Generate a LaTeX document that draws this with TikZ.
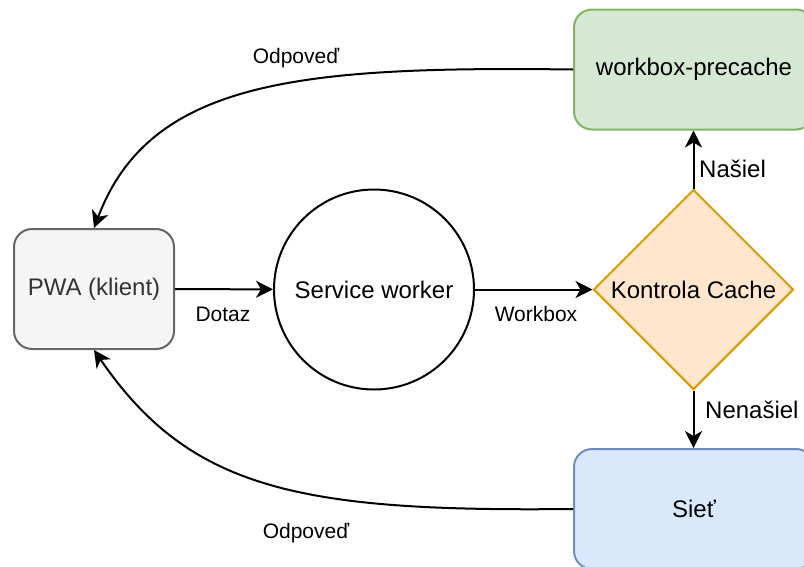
\documentclass[tikz,border=0pt]{standalone}
\usepackage{fontspec}
\setmainfont{Liberation Sans}
\usetikzlibrary{shapes.geometric,arrows.meta}
\definecolor{gfill}{HTML}{D5E8D4}
\definecolor{gline}{HTML}{82B366}
\definecolor{ofill}{HTML}{FFE6CC}
\definecolor{oline}{HTML}{D79B00}
\definecolor{bfill}{HTML}{DAE8FC}
\definecolor{bline}{HTML}{6C8EBF}
\definecolor{kfill}{HTML}{F5F5F5}
\definecolor{kline}{HTML}{666666}
\definecolor{ktext}{HTML}{333333}
\begin{document}
\begin{tikzpicture}[x=1pt,y=-1pt,
  box/.style={draw, rounded corners=18pt, line width=2pt, inner sep=0pt,
    minimum width=240pt, minimum height=120pt, font={\fontsize{24}{28}\selectfont}},
  roundnode/.style={draw, circle, line width=2pt, inner sep=0pt, minimum size=200pt,
    font={\fontsize{24}{28}\selectfont}},
  decision/.style={draw, diamond, aspect=1, line width=2pt, inner sep=0pt, minimum size=200pt,
    font={\fontsize{24}{28}\selectfont}},
  conn/.style={line width=2pt, -{Stealth[length=17pt,width=17pt,inset=5pt]}},
  elabel/.style={inner sep=0pt, font={\fontsize{21}{25}\selectfont}},
  elabelbig/.style={inner sep=0pt, font={\fontsize{24}{28}\selectfont}}]
\useasboundingbox (0,0) rectangle (804,566);
\clip (0,0) rectangle (804,566);
\node[box, fill=kfill, draw=kline, text=ktext, minimum width=160pt] (pwa) at (94,289) {PWA (klient)};
\node[roundnode, fill=white] (sw) at (374,289.5) {Service worker};
\node[decision, fill=ofill, draw=oline] (kc) at (693.5,289.5) {Kontrola Cache};
\node[box, fill=gfill, draw=gline] (wp) at (694,69.5) {workbox-precache};
\node[box, fill=bfill, draw=bline] (net) at (694,509) {Sieť};
\draw[conn] (pwa) -- (sw);
\draw[conn] (sw) -- (kc);
\draw[conn] (kc.north) -- (kc.north |- wp.south);
\draw[conn] (kc.south) -- (kc.south |- net.north);
\draw[conn] (wp.west) .. controls (300,66) and (150,80) .. (pwa.north);
\draw[conn] (net.west) .. controls (300,512) and (190,490) .. (pwa.south);
\node[elabel, anchor=base] (l1) at (223,321) {Dotaz};
\node[elabel, anchor=base] (l2) at (536,321) {Workbox};
\node[elabelbig, anchor=base west] (l3) at (699,177) {Našiel};
\node[elabelbig, anchor=base west] (l4) at (705,418) {Nenašiel};
\node[elabel, anchor=base] (l5) at (296,63) {Odpoveď};
\node[elabel, anchor=base] (l6) at (306,538) {Odpoveď};
\end{tikzpicture}
\end{document}
